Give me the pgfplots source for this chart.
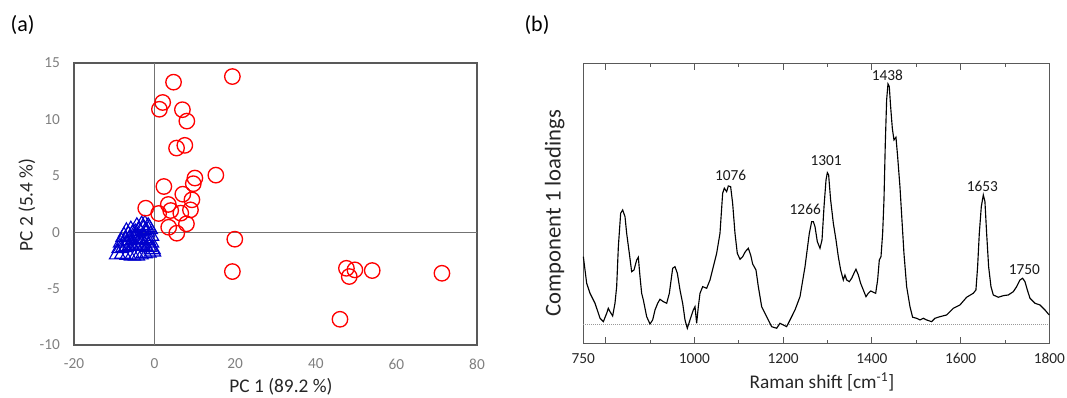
\documentclass[border=0pt]{standalone}
\usepackage{fontspec}
\setmainfont{Carlito}
\usepackage{pgfplots}
\pgfplotsset{compat=1.18}
\definecolor{framegray}{HTML}{595959}
\definecolor{ticklab}{HTML}{7F7F7F}
\definecolor{mblue}{HTML}{0000CC}
\definecolor{mred}{HTML}{FF0000}
\begin{document}
\begin{tikzpicture}
\path[use as bounding box] (0,0) rectangle (800.25pt,297.75pt);
% ---------------- (a) ----------------
\begin{axis}[
  at={(55.5pt,39pt)}, anchor=south west,
  width=302.25pt, height=211.5pt, scale only axis,
  xmin=-20, xmax=80, ymin=-10, ymax=15,
  xtick={-20,0,20,40,60,80}, ytick={-10,-5,0,5,10,15},
  major tick length=0pt,
  axis line style={framegray, line width=0.8pt},
  /pgf/number format/assume math mode=true,
  ticklabel style={font=\fontsize{11.5}{13}\selectfont, text=ticklab},
  xticklabel style={yshift=-7pt},
  yticklabel style={xshift=-7pt},
  clip=false,
]
\draw[black!55, line width=0.7pt] (axis cs:0,-10) -- (axis cs:0,15);
\draw[black!55, line width=0.7pt] (axis cs:-20,0) -- (axis cs:80,0);
\addplot[only marks, mark=triangle, mark size=7pt, mark options={draw=mblue, line width=0.85pt}] coordinates {
(-7.0,0.0) (-5.9,0.15) (-4.4,0.45) (-3.2,0.6) (-2.4,0.65) (-1.6,0.45) (-1.3,0.3)
(-7.6,-0.4) (-6.5,-0.3) (-5.5,-0.2) (-4.8,-0.1) (-3.8,0.1) (-2.8,0.2) (-2.0,0.0) (-1.0,-0.3)
(-8.2,-0.9) (-7.2,-0.8) (-6.3,-0.7) (-5.2,-0.6) (-4.4,-0.5) (-3.5,-0.6) (-2.6,-0.5) (-1.8,-0.7) (-1.0,-0.9)
(-8.6,-1.4) (-7.6,-1.3) (-6.8,-1.2) (-5.9,-1.1) (-5.0,-1.2) (-4.1,-1.0) (-3.2,-1.1) (-2.4,-1.2) (-1.5,-1.3) (-0.6,-1.5)
(-9.2,-1.95) (-7.9,-1.9) (-6.6,-2.0) (-5.5,-2.05) (-4.5,-2.05) (-3.6,-1.95) (-2.6,-1.85) (-1.6,-1.8) (-0.5,-1.7)
};
\addplot[only marks, mark=o, mark size=5.8pt, mark options={draw=mred, line width=1pt}] coordinates {
(19.3,13.8) (4.7,13.3) (2.0,11.5) (1.2,10.9) (6.9,10.86) (8.0,9.85)
(5.45,7.46) (7.5,7.7) (15.2,5.06) (10.0,4.8) (9.6,4.3) (2.3,4.05)
(7.0,3.37) (9.26,2.87) (3.4,2.46) (-2.2,2.13) (4.0,1.92) (8.9,1.98)
(6.5,1.69) (1.0,1.66) (7.9,0.74) (3.5,0.44) (5.5,-0.09) (19.9,-0.62)
(19.3,-3.49) (47.6,-3.2) (49.7,-3.34) (48.3,-3.93) (54.0,-3.4) (71.3,-3.64) (46.0,-7.72)
};
\end{axis}
% ---------------- (b) ----------------
\begin{axis}[
  at={(437.5pt,40.3pt)}, anchor=south west,
  width=349.5pt, height=209.5pt, scale only axis,
  xmin=750, xmax=1800, ymin=-19.3, ymax=260,
  ytick=\empty,
  xtick={800,1000,1200,1400,1600}, xticklabels={},
  minor xtick={900,1100,1300,1500,1700},
  major tick length=4.5pt, minor tick length=2.5pt,
  tick style={framegray, line width=0.6pt},
  extra x ticks={750,1000,1200,1400,1600,1800},
  extra x tick labels={750,1000,1200,1400,1600,1800},
  extra x tick style={major tick length=0pt},
  axis line style={framegray, line width=0.8pt},
  ticklabel style={font=\fontsize{11.5}{13}\selectfont, text=black!85},
  xticklabel style={yshift=-4pt},
  clip=false,
]
\addplot[black!40, densely dotted, line width=0.5pt] coordinates {(750,0) (1800,0)};
\addplot[black, line width=0.85pt] coordinates {
(750.0,67.3) (757.5,40.7) (765.0,30.7) (776.3,20.7) (787.6,5.7) (795.1,2.3) (802.6,10.7) (806.3,15.7) (810.1,12.3) (816.1,8.0)
(821.3,20.7) (825.1,37.3) (828.9,77.3) (834.1,110.7) (838.6,114.0) (843.9,107.3) (847.6,90.7) (853.6,70.7) (858.9,52.3) (864.2,54.0)
(870.2,64.0) (873.9,66.7) (877.7,47.3) (881.4,30.7) (885.2,24.0) (892.7,7.3) (900.2,0) (906.2,4.0) (911.5,14.0) (917.5,20.7)
(922.7,24.7) (930.2,22.3) (937.8,20.7) (943.8,30.7) (951.3,55.7) (956.5,57.3) (961.8,50.7) (967.8,34.0) (973.8,20.7) (979.1,4.0)
(984.3,-4.3) (990.3,4.0) (997.8,14.0) (1001.6,17.3) (1005.3,0.7) (1009.1,17.3) (1012.9,30.7) (1018.9,37.3) (1027.9,35.7) (1035.4,44.0)
(1042.9,57.3) (1050.4,70.7) (1057.9,90.7) (1063.9,130.7) (1067.7,135.7) (1072.9,132.3) (1076.7,138.0) (1081.9,137.3) (1086.4,120.7) (1091.7,90.7)
(1096.9,70.7) (1103.0,64.7) (1109.0,67.3) (1115.0,72.3) (1121.7,75.7) (1127.0,69.0) (1131.5,60.0) (1139.0,54.0) (1144.3,37.3) (1151.8,17.3)
(1159.3,10.7) (1166.8,4.0) (1174.3,-2.7) (1185.6,-4.3) (1193.1,0.7) (1200.6,-1.0) (1208.1,-2.7) (1215.7,4.0) (1226.9,14.0) (1238.2,27.3)
(1249.5,57.3) (1259.2,90.7) (1264.5,102.3) (1268.2,102.3) (1272.0,97.3) (1277.2,82.3) (1283.2,75.7) (1287.8,84.0) (1292.3,117.3) (1296.8,144.0)
(1299.8,151.3) (1302.7,149.0) (1307.2,124.0) (1313.3,100.7) (1319.3,84.0) (1324.5,67.3) (1329.8,54.0) (1335.8,44.0) (1339.5,49.0) (1343.3,44.0)
(1349.3,42.3) (1354.6,45.7) (1359.8,50.7) (1364.3,54.7) (1369.6,49.0) (1374.8,40.7) (1380.8,34.0) (1386.9,27.3) (1392.1,30.7) (1397.4,33.0)
(1403.4,31.7) (1408.7,30.7) (1413.1,44.0) (1416.9,64.0) (1420.7,67.3) (1424.4,90.7) (1427.4,124.0) (1430.4,180.7) (1433.4,224.0) (1436.4,240.0)
(1439.4,237.3) (1442.4,217.3) (1446.2,195.7) (1449.9,184.0) (1454.4,186.7) (1458.2,167.3) (1463.4,137.3) (1467.9,104.0) (1472.4,70.7) (1478.5,37.3)
(1486.0,17.3) (1492.0,6.7) (1501.0,5.7) (1508.5,4.0) (1516.0,5.7) (1523.5,4.0) (1534.8,2.3) (1542.3,5.7) (1553.6,7.3) (1568.6,9.0)
(1583.6,15.7) (1598.6,19.0) (1613.6,26.7) (1628.6,30.7) (1634.6,34.0) (1638.4,57.3) (1642.2,90.7) (1646.7,117.3) (1651.2,129.0) (1654.9,122.3)
(1658.7,90.7) (1663.2,57.3) (1668.5,37.3) (1673.7,29.0) (1685.0,26.7) (1696.3,28.3) (1707.5,29.0) (1718.8,32.3) (1726.3,37.3) (1733.8,44.0)
(1739.8,45.7) (1745.1,42.3) (1750.4,34.0) (1756.4,25.7) (1767.6,20.7) (1778.9,19.0) (1790.2,14.0) (1797.7,10.0) (1800,9.0)
};
\begin{scope}[every node/.style={font=\fontsize{11.5}{13}\selectfont, text=black!90}]
\node at (axis cs:1435,248.3) {1438};
\node at (axis cs:1082,148.3) {1076};
\node at (axis cs:1297,163) {1301};
\node at (axis cs:1250,114.7) {1266};
\node at (axis cs:1649,138) {1653};
\node at (axis cs:1743.6,54) {1750};
\end{scope}
\end{axis}
% ---------------- labels ----------------
\node[font=\fontsize{16.5}{18}\selectfont] at (16.9pt,279pt) {(a)};
\node[font=\fontsize{16.5}{18}\selectfont] at (402.75pt,279pt) {(b)};
\node[font=\fontsize{14.5}{16}\selectfont, text=black!85] at (210.75pt,7.5pt) {PC 1 (89.2 \%)};
\node[font=\fontsize{14.5}{16}\selectfont, text=black!85, rotate=90] at (20.25pt,144pt) {PC 2 (5.4 \%)};
\node[font=\fontsize{14.5}{16}\selectfont, text=black!85] at (616.5pt,11.25pt) {Raman shift [cm\textsuperscript{-1}]};
\node[font=\fontsize{17}{19}\selectfont, text=black!85, rotate=90] at (416pt,138pt) {Component 1 loadings};
\end{tikzpicture}
\end{document}
